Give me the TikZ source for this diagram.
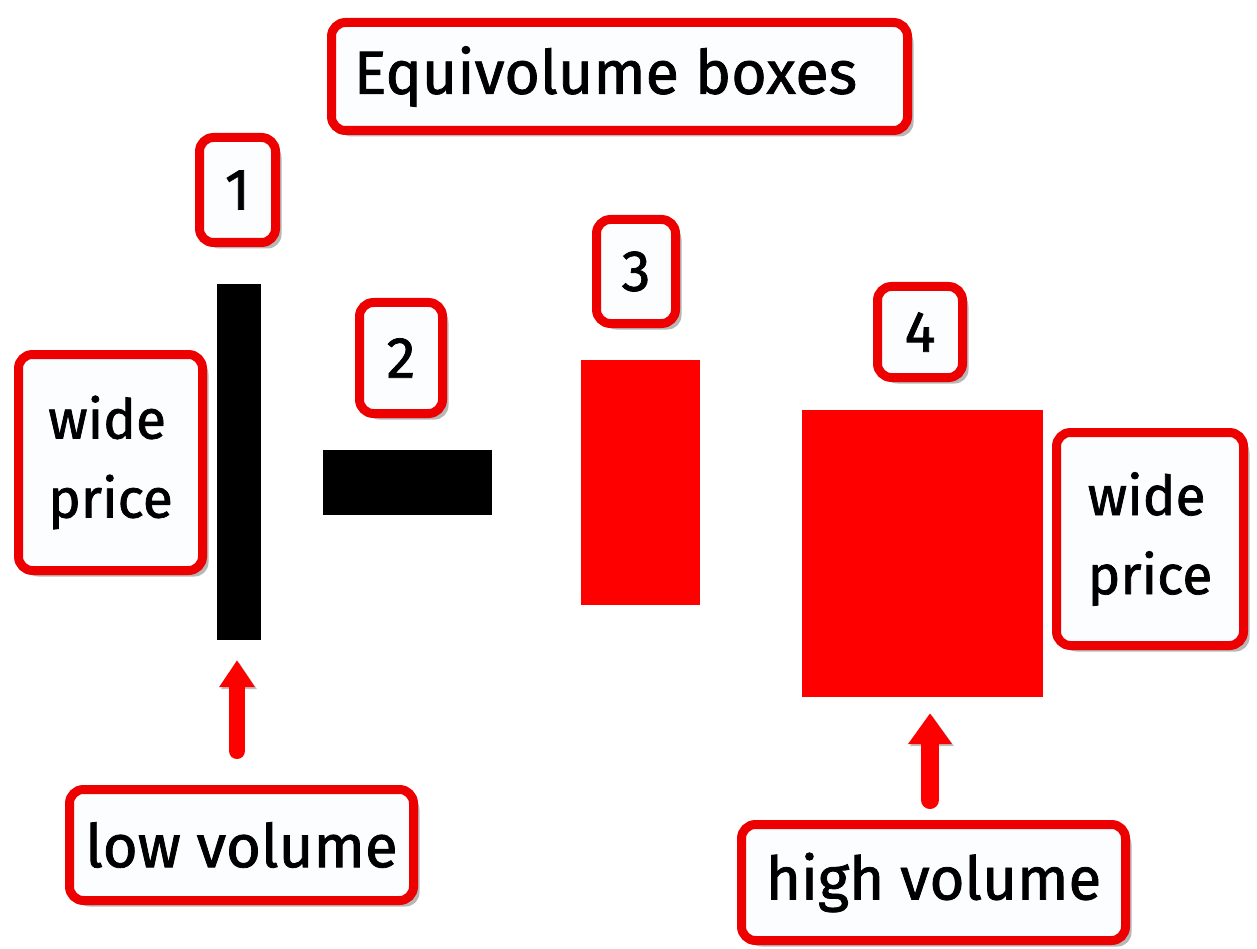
\documentclass[tikz,border=0pt]{standalone}
\usepackage{fontspec}
\setmainfont[FakeBold=1.3]{Fira Sans}
\usetikzlibrary{arrows.meta,shadows}
\definecolor{boxred}{RGB}{236,0,0}
\definecolor{rectred}{RGB}{255,0,0}
\definecolor{boxfill}{RGB}{251,253,254}
\begin{document}
\begin{tikzpicture}[x=1pt,y=-1pt,
  lbl/.style={draw=boxred, line width=9pt, rounded corners=14pt, fill=boxfill,
    inner sep=0pt, align=left,
    drop shadow={shadow xshift=6pt, shadow yshift=-6pt, opacity=0.4, fill=black!70}},
  numfont/.style={font=\fontsize{58}{60}\selectfont},
  pricefont/.style={font=\fontsize{55}{79}\selectfont},
  volfont/.style={font=\fontsize{60}{66}\selectfont},
  blackbar/.style={fill=black, inner sep=0pt},
  redbar/.style={fill=rectred, inner sep=0pt},
  bigarrow/.style={draw=rectred, line cap=round,
    preaction={draw=black!55, opacity=0.45, transform canvas={shift={(2pt,-2pt)}}}}
]
\useasboundingbox[fill=white] (0,0) rectangle (1257,949);

% title
\node[lbl, minimum width=576pt, minimum height=108pt,
  font=\fontsize{61}{66}\selectfont] (title) at (619.5,76.5) {Equivolume boxes\hspace*{28pt}};

% number boxes
\node[lbl, numfont, minimum width=76pt, minimum height=105pt] (n1) at (237.5,190) {1};
\node[lbl, numfont, minimum width=83pt, minimum height=111pt] (n2) at (401,358) {2};
\node[lbl, numfont, minimum width=79pt, minimum height=104pt] (n3) at (636,271.5) {3};
\node[lbl, numfont, minimum width=85pt, minimum height=91pt] (n4) at (920,332) {4};

% volume bars
\node[blackbar, minimum width=44pt, minimum height=356pt] (bar1) at (239,462) {};
\node[blackbar, minimum width=169pt, minimum height=65pt] (bar2) at (407.5,482.5) {};
\node[redbar, minimum width=119pt, minimum height=245pt] (bar3) at (640.5,482.5) {};
\node[redbar, minimum width=241pt, minimum height=287pt] (bar4) at (922.5,553.5) {};

% side labels
\node[lbl, pricefont, minimum width=184pt, minimum height=216pt] (wpl) at (110.5,462.5) {wide\\price};
\node[lbl, pricefont, minimum width=187pt, minimum height=213pt] (wpr) at (1150,539) {wide\\price};

% bottom labels
\node[lbl, volfont, minimum width=344pt, minimum height=111pt] (lowv) at (241.5,845) {low volume};
\node[lbl, volfont, minimum width=384pt, minimum height=116pt] (highv) at (933.5,882.5) {high volume};

% arrows
\coordinate (a1s) at (237,751);
\coordinate (a2s) at (930,800);
\draw[bigarrow, line width=16pt, -{Triangle[width=34pt,length=27pt]}]
  (a1s) -- ([yshift=-20pt]bar1.south -| a1s);
\draw[bigarrow, line width=18pt, -{Triangle[width=42pt,length=31pt]}]
  (a2s) -- ([yshift=-16pt]bar4.south -| a2s);
\end{tikzpicture}
\end{document}
